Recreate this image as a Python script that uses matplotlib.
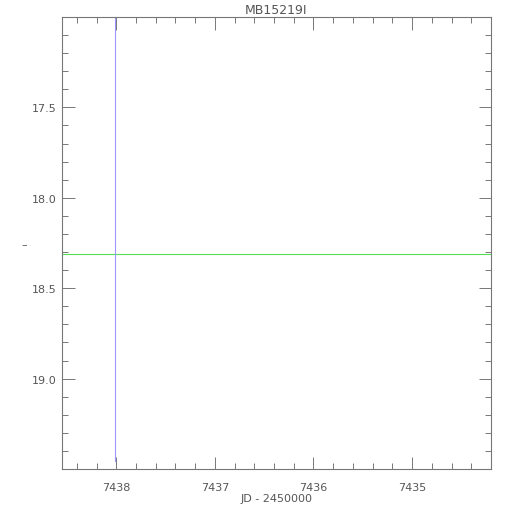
import matplotlib
matplotlib.use("Agg")
import matplotlib.pyplot as plt
from matplotlib.ticker import MultipleLocator, FuncFormatter

title = "MB15219I"
xlabel = "JD - 2450000"
ylabel = "\u2013"
xlim = (7438.55, 7434.2)
ylim = (19.5, 17.0)
ytick_labels = [17.5, 18.0, 18.5, 19.0]
mag_level = [18.31]          # horizontal green line (magnitude)
event_time = [7438.01]       # vertical blue line (JD)

fig = plt.figure(figsize=(5.1, 5.1), dpi=100)
ax = fig.add_axes([0.1216, 0.0784, 0.8411, 0.8863])
ax.set_xlim(*xlim)
ax.set_ylim(*ylim)

for m in mag_level:
    ax.axhline(m, color="#55dd55", lw=0.8)
for t in event_time:
    ax.axvline(t, ymin=0.018, ymax=1.0, color="#9999ff", lw=0.8)

gray = "#777777"
ax.xaxis.set_major_locator(MultipleLocator(1))
ax.xaxis.set_minor_locator(MultipleLocator(0.2))
ax.yaxis.set_major_locator(MultipleLocator(0.5))
ax.yaxis.set_minor_locator(MultipleLocator(0.1))
ax.xaxis.set_major_formatter(FuncFormatter(lambda v, p: "%d" % round(v)))
ax.yaxis.set_major_formatter(FuncFormatter(
    lambda v, p: ("%.1f" % v) if any(abs(v - t) < 1e-6 for t in ytick_labels) else ""))
ax.tick_params(which="both", direction="in", top=True, right=True, colors=gray,
               labelcolor="#555555", labelsize=8, width=0.7)
ax.tick_params(axis="x", which="major", length=9, pad=9)
ax.tick_params(axis="y", which="major", length=9, pad=4)
ax.tick_params(which="minor", length=4.5)
for s in ax.spines.values():
    s.set_color(gray)
    s.set_linewidth(0.8)

ax.set_title(title, fontsize=9, color="#555555", pad=3)
ax.set_xlabel(xlabel, fontsize=8, color="#555555", labelpad=1)
ax.set_ylabel(ylabel, fontsize=8, color="#555555", rotation=0, va="center", ha="center")
ax.yaxis.set_label_coords(-0.089, 0.498)

fig.savefig("out.png", dpi=100)
